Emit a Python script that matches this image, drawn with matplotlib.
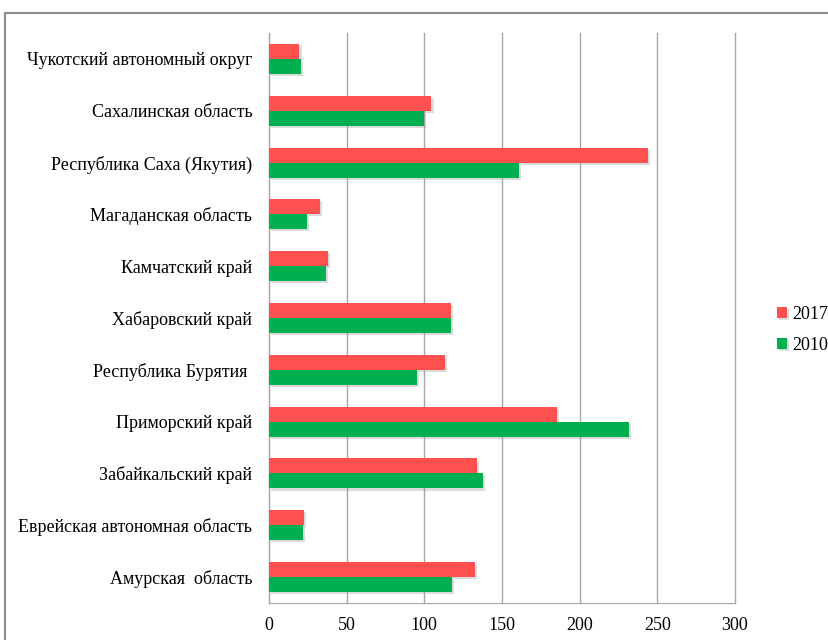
import numpy as np
import matplotlib.pyplot as plt
import matplotlib.patheffects as pe
from matplotlib.patches import Rectangle

plt.rcParams['font.family'] = ['Liberation Serif', 'DejaVu Serif']

# categories listed bottom to top
regions = ['Амурская  область', 'Еврейская автономная область', 'Забайкальский край',
           'Приморский край', 'Республика Бурятия ', 'Хабаровский край',
           'Камчатский край', 'Магаданская область', 'Республика Саха (Якутия)',
           'Сахалинская область', 'Чукотский автономный округ']
v2017 = [132.7, 22.8, 133.8, 185.4, 113, 117, 37.8, 32.7, 243.8, 104.6, 19.6]
v2010 = [117.9, 21.7, 137.7, 231.8, 95, 117, 36.5, 24.5, 160.7, 100, 20.4]
xticks = [0, 50, 100, 150, 200, 250, 300]

red = '#FF5050'
green = '#00B050'

fig = plt.figure(figsize=(8.29, 6.40), dpi=100)
# outer chart frame (cut off at right and bottom)
fig.patches.append(Rectangle((5 / 829, -0.1), 1.0, (640 - 13) / 640 + 0.1,
                             transform=fig.transFigure, fill=False,
                             edgecolor='#8c8c8c', linewidth=1.5))

ax = fig.add_axes([269 / 829, 37 / 640, 466 / 829, 570 / 640])

y = np.arange(len(regions))
h = 0.29
shadow = [pe.withSimplePatchShadow(offset=(1.5, -1.5), shadow_rgbFace='#999999', alpha=0.35)]
b1 = ax.barh(y + h / 2, v2017, height=h, color=red, label='2017', zorder=3)
b2 = ax.barh(y - h / 2, v2010, height=h, color=green, label='2010', zorder=3)
for b in list(b1) + list(b2):
    b.set_path_effects(shadow)

ax.set_xlim(0, 300)
ax.set_ylim(-0.5, len(regions) - 0.5)
ax.set_xticks(xticks)
ax.set_xticklabels([str(t) for t in xticks])
ax.set_yticks(y)
ax.set_yticklabels(regions)
ax.tick_params(axis='both', length=0, labelsize=13, colors='black')
ax.tick_params(axis='x', pad=10)
ax.tick_params(axis='y', pad=12)

ax.grid(axis='x', color='#a6a6a6', linewidth=1, zorder=0)
for line in ax.get_xgridlines():
    line.set_clip_on(False)
for s in ['top', 'right']:
    ax.spines[s].set_visible(False)
ax.spines['left'].set_color('#a6a6a6')
ax.spines['bottom'].set_color('#a6a6a6')

fig.legend(handles=[b1, b2], loc='center left', bbox_to_anchor=(770 / 829, 1 - 330 / 640),
           frameon=False, fontsize=13, handlelength=0.55, handleheight=0.55,
           handletextpad=0.3, labelspacing=0.75, borderaxespad=0)

fig.savefig('out.png', dpi=100)
